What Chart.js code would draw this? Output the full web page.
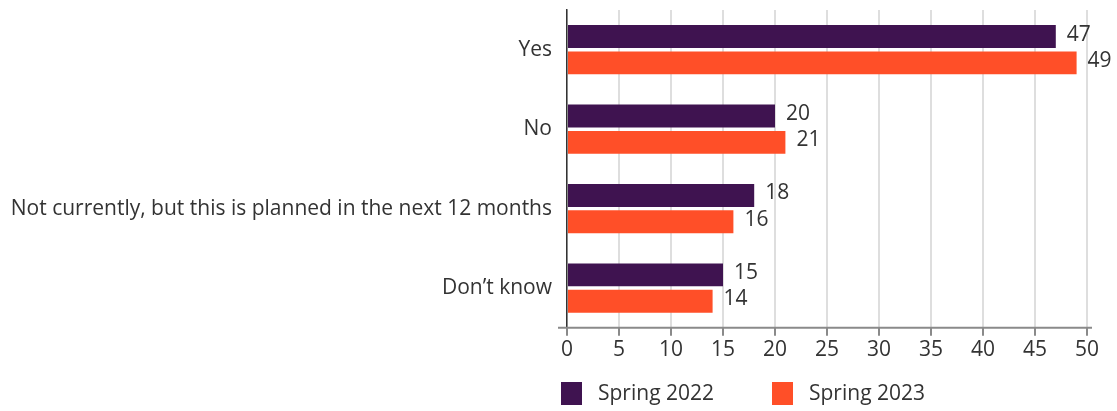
<!DOCTYPE html>
<html>
<head>
<meta charset="utf-8">
<script src="https://cdn.jsdelivr.net/npm/chart.js@4"></script>
<style>
  html,body{margin:0;padding:0;background:#fff}
  #wrap{width:1117px;height:411px;position:relative}
</style>
</head>
<body>
<div id="wrap"><canvas id="chart"></canvas></div>
<script>
const categories = ['Yes', 'No', 'Not currently, but this is planned in the next 12 months', 'Don\u2019t know'];
const seriesNames = ['Spring 2022', 'Spring 2023'];
const spring2022 = [47, 20, 18, 15];
const spring2023 = [49, 21, 16, 14];
const colors = ['#3f1350', '#ff4f28'];
const xTicks = [0, 5, 10, 15, 20, 25, 30, 35, 40, 45, 50];

const FONT = '"Open Sans", Lato, sans-serif';
const TEXT = '#333333';
const SIZE = 21;

// value next to the end of each bar + horizontal axis line + legend
const extras = {
  id: 'extras',
  afterDatasetsDraw(chart) {
    const ctx = chart.ctx;
    ctx.save();
    ctx.font = SIZE + 'px ' + FONT;
    ctx.fillStyle = TEXT;
    ctx.textAlign = 'left';
    ctx.textBaseline = 'middle';
    chart.data.datasets.forEach((ds, i) => {
      chart.getDatasetMeta(i).data.forEach((bar, j) => {
        ctx.fillText(String(ds.data[j]), bar.x + 11, bar.y - 2);
      });
    });
    ctx.restore();
  },
  afterDraw(chart) {
    const ctx = chart.ctx, a = chart.chartArea;
    ctx.save();
    ctx.strokeStyle = '#8a8a8a';
    ctx.lineWidth = 2;
    ctx.beginPath();
    ctx.moveTo(a.left - 9, a.bottom);
    ctx.lineTo(a.right + 5, a.bottom);
    ctx.stroke();
    // legend
    ctx.font = SIZE + 'px ' + FONT;
    ctx.textBaseline = 'middle';
    ctx.textAlign = 'left';
    let x = a.left - 6;
    const y = 393;
    seriesNames.forEach((name, i) => {
      ctx.fillStyle = colors[i];
      ctx.fillRect(x, y - 11, 21, 23);
      ctx.fillStyle = TEXT;
      ctx.fillText(name, x + 37, y + 1);
      x += 211;
    });
    ctx.restore();
  }
};

new Chart(document.getElementById('chart'), {
  type: 'bar',
  data: {
    labels: categories,
    datasets: [
      { label: seriesNames[0], data: spring2022, backgroundColor: colors[0] },
      { label: seriesNames[1], data: spring2023, backgroundColor: colors[1] }
    ]
  },
  options: {
    indexAxis: 'y',
    responsive: true,
    maintainAspectRatio: false,
    animation: false,
    categoryPercentage: 0.663,
    barPercentage: 0.87,
    layout: { padding: { top: 10, right: 30, bottom: 46, left: 0 } },
    plugins: { legend: { display: false }, tooltip: { enabled: false } },
    scales: {
      x: {
        min: 0, max: 50,
        afterBuildTicks: s => { s.ticks = xTicks.map(v => ({ value: v })); },
        grid: { color: '#dedede', lineWidth: 2, tickColor: '#8a8a8a', tickLength: 8, drawTicks: true },
        border: { display: false },
        ticks: { color: TEXT, font: { size: SIZE, family: FONT }, padding: 2, maxRotation: 0 }
      },
      y: {
        afterFit: s => { s.width = 567; s.paddingTop = 0; s.paddingBottom = 0; },
        grid: { display: false, drawTicks: false },
        border: { display: true, color: '#333333', width: 1.5 },
        ticks: { color: TEXT, font: { size: SIZE, family: FONT }, padding: 15 }
      }
    }
  },
  plugins: [extras]
});
</script>
</body>
</html>
